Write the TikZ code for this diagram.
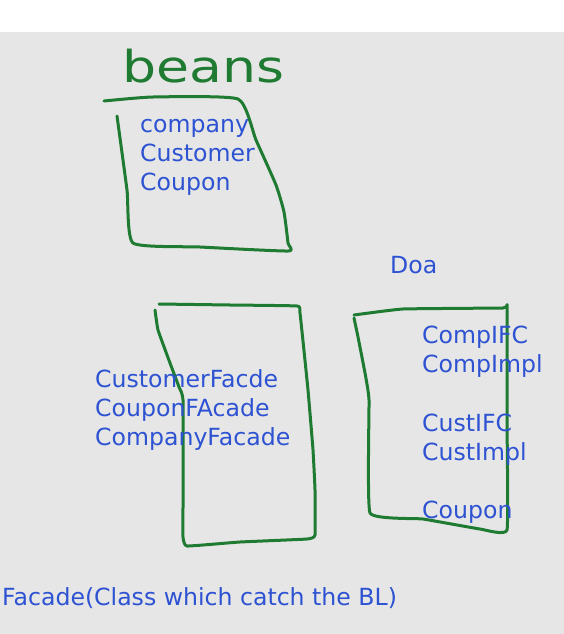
\documentclass[tikz,border=0pt]{standalone}
\usepackage{fontspec}
\setmainfont{DejaVu Sans}
\usepackage{xcolor}
\usetikzlibrary{positioning}
\definecolor{penGreen}{RGB}{31,122,50}
\definecolor{txtBlue}{RGB}{45,82,210}
\definecolor{boardGray}{RGB}{230,230,230}

\begin{document}
\begin{tikzpicture}[
x=1pt,y=-1pt,
pen/.style={draw=penGreen,line width=3pt,line cap=round,line join=round},
label/.style={anchor=base west,inner sep=0,text=txtBlue,font=\fontsize{23.6}{29}\selectfont}
]
% board
\fill[white] (0,0) rectangle (564,32);
\fill[boardGray] (0,32) rectangle (564,634);
\useasboundingbox (0,0) rectangle (564,634);

% handwritten title
\node[anchor=base west,inner sep=0,text=penGreen,font=\fontsize{44}{44}\selectfont] (title) at (122,82) {\scalebox{1.22}[1]{beans}};

% beans box
\draw[pen] plot[smooth,tension=0.3] coordinates {(104,101) (153,97) (238,99) (256,140) (276,185) (284,212) (288,243) (288,251) (200,247) (133,243) (127,190) (117,116)};
\node[label] (company) at (140,132) {company};
\node[label] (customer) at (140,161) {Customer};
\node[label] (coupon) at (140,190) {Coupon};

% facade box
\draw[pen] plot[smooth,tension=0.2] coordinates {(159,304) (230,305) (297,306) (300,313) (308,390) (313,450) (315,490) (315,535) (307,539) (240,542) (187,546) (183,537) (183,507) (183,400) (179,387) (170,363) (158,330) (155,310)};
\node[label] (custfacade) at (95,387) {CustomerFacde};
\node[label] (coupfacade) at (95,416) {CouponFAcade};
\node[label] (compfacade) at (95,445) {CompanyFacade};

% doa box
\node[label] (doa) at (390,273) {Doa};
\draw[pen] plot[smooth,tension=0.2] coordinates {(354,315) (403,309) (503,308) (507,307) (507,420) (507,530) (480,529) (423,519) (370,513) (369,400) (365,373) (358,337) (354,318)};
\node[label] (compifc) at (422,343) {CompIFC};
\node[label] (compimpl) at (422,372) {CompImpl};
\node[label] (custifc) at (422,431) {CustIFC};
\node[label] (custimpl) at (422,460) {CustImpl};
\node[label] (doacoupon) at (422,518) {Coupon};

% caption
\node[label] (facade) at (2,605) {Facade(Class which catch the BL)};
\end{tikzpicture}
\end{document}
